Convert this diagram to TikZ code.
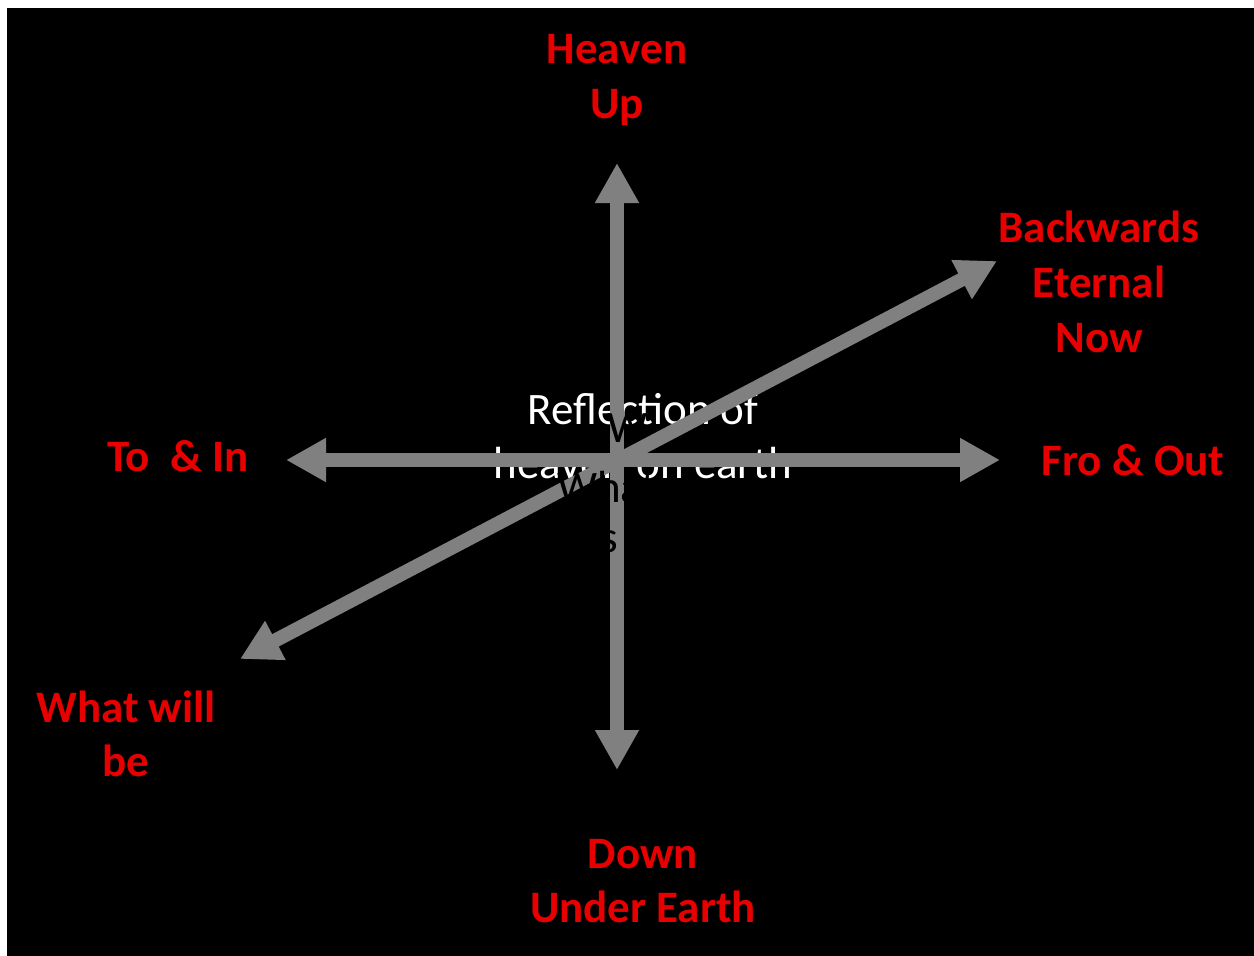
\documentclass[tikz,border=0pt]{standalone}
\usepackage{fontspec}
\setmainfont{Carlito}
\usetikzlibrary{arrows.meta}
\definecolor{lblred}{RGB}{232,0,0}
\definecolor{axgray}{RGB}{128,128,128}
\tikzset{
  lbl/.style={text=lblred, font=\fontsize{33.75}{41}\selectfont\bfseries, align=center, inner sep=0pt},
  ctr/.style={text=white, font=\fontsize{33.75}{41}\selectfont, align=center, inner sep=0pt},
  hid/.style={text=black, font=\fontsize{33.75}{41}\selectfont, inner sep=0pt},
  axis/.style={draw=axgray, line width=10.5pt, {Triangle[width=31pt,length=30pt]}-{Triangle[width=31pt,length=30pt]}}
}
\begin{document}
\begin{tikzpicture}[x=0.75pt,y=-0.75pt]
\useasboundingbox[fill=white] (0,0) rectangle (1254,956);
\fill[black] (7,8) rectangle (1254,956);
% centre text (under the axes)
\node[ctr] (refl) at (643,436) {Reflection of\\heaven on earth};
% axis end points
\coordinate (vtop) at (617,163);
\coordinate (vbot) at (617,770);
\coordinate (hl) at (286,460);
\coordinate (hr) at (1000,460);
\coordinate (dl) at (240,659);
\coordinate (dr) at (997,261);
\draw[axis] (vbot) -- (vtop);
\draw[axis] (hl) -- (hr);
\draw[axis] (dl) -- (dr);
% hidden black text over the axes
\node[hid, anchor=west] (w1) at (607,428) {W};
\node[hid] (w2) at (607,487) {What};
\node[hid] (w3) at (604,537) {is};
% labels
\node[lbl] (heaven) at (617,80) {Heaven\\Up};
\node[lbl] (back) at (1099,282) {Backwards\\Eternal\\Now};
\node[lbl] (toin) at (178,456) {To\ \ \& In};
\node[lbl] (fro) at (1133,460) {Fro \& Out};
\node[lbl] (will) at (126,734) {What will\\be};
\node[lbl] (down) at (643,881) {Down\\Under Earth};
\end{tikzpicture}
\end{document}
